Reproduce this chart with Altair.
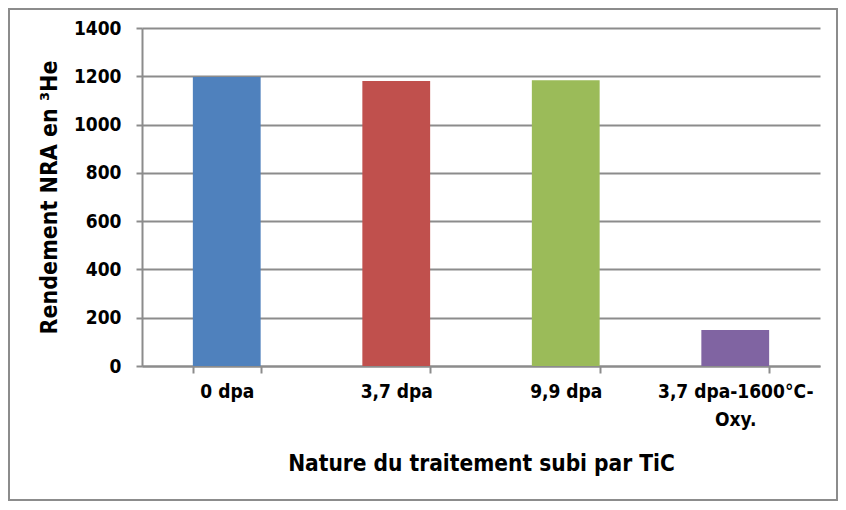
import altair as alt
import pandas as pd

categories = ["0 dpa", "3,7 dpa", "9,9 dpa", "3,7 dpa-1600°C-Oxy."]
values = [1197, 1180, 1184, 149]
colors = ["#4F81BD", "#C0504D", "#9BBB59", "#8064A2"]
y_ticks = [0, 200, 400, 600, 800, 1000, 1200, 1400]

df = pd.DataFrame({"cat": categories, "val": values})

W, H = 678, 338
FONT = "Liberation Sans Narrow, DejaVu Sans Condensed, sans-serif"
GRID = "#8c8c8c"

label_expr = ("datum.label == '3,7 dpa-1600°C-Oxy.' ? "
              "['3,7 dpa-1600°C-', 'Oxy.'] : datum.label")

bars = alt.Chart(df).mark_bar(cornerRadius=0).encode(
    x=alt.X("cat:N", sort=categories,
            scale=alt.Scale(paddingInner=0.6, paddingOuter=0.3),
            axis=alt.Axis(title="Nature du traitement subi par TiC",
                          labelAngle=0, tickBand="extent", labelExpr=label_expr,
                          labelFont=FONT, labelFontSize=19, labelFontWeight="bold",
                          labelColor="black", labelPadding=9, labelLineHeight=28,
                          labelBaseline="top",
                          titleFont=FONT, titleFontSize=22.5, titleFontWeight="bold",
                          titleColor="black", titlePadding=23,
                          domainColor=GRID, domainWidth=2, tickColor=GRID,
                          tickWidth=2, tickSize=7, grid=False)),
    y=alt.Y("val:Q", scale=alt.Scale(domain=[0, 1400], nice=False),
            axis=alt.Axis(title="Rendement NRA en ³He", values=y_ticks, format="d",
                          labelFont=FONT, labelFontSize=19, labelFontWeight="bold",
                          labelColor="black", labelPadding=15,
                          titleFont=FONT, titleFontSize=23, titleFontWeight="bold",
                          titleColor="black", titlePadding=12,
                          domainColor=GRID, domainWidth=2, tickColor=GRID,
                          tickWidth=2, tickSize=6,
                          grid=True, gridColor=GRID, gridWidth=2)),
    color=alt.Color("cat:N", scale=alt.Scale(domain=categories, range=colors),
                    legend=None),
)

border = alt.Chart(pd.DataFrame({"a": [0]})).mark_rect(
    filled=False, stroke=GRID, strokeWidth=2
).encode(
    x=alt.value(-133), x2=alt.value(W + 17),
    y=alt.value(-19), y2=alt.value(H + 134),
)

chart = alt.layer(bars, border).properties(
    width=W, height=H,
    padding={"left": 134, "top": 20, "right": 18, "bottom": 136},
    autosize=alt.AutoSizeParams(type="none"),
    background="white",
).configure_view(stroke=None)

chart.save("out.html", embed_options={"renderer": "svg", "actions": False})
